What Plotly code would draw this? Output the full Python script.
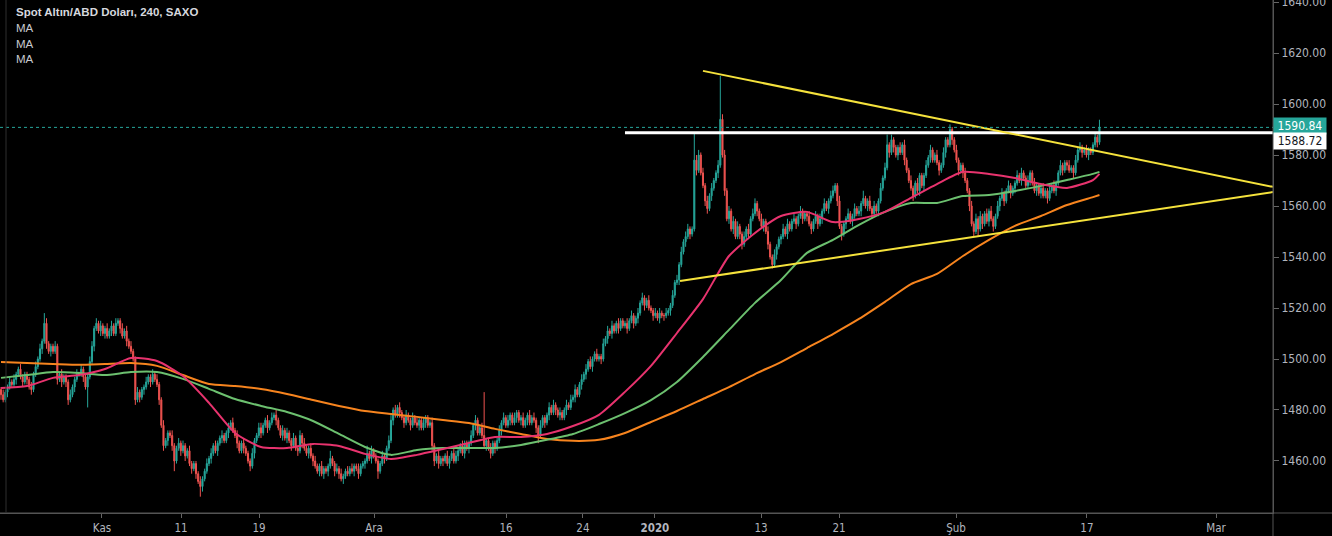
import plotly.graph_objects as go

# ---------------- data ----------------
first_open = 1488.0
# 4h closes, one row per trading day (6 bars)
closes = [
    1486, 1484, 1487, 1489, 1491, 1490,
    1492, 1494, 1496, 1493, 1491, 1494,
    1492, 1489, 1488, 1494, 1497, 1500,
    1504, 1507, 1514, 1506, 1503, 1505,
    1503, 1505, 1492, 1494, 1491, 1493,
    1491, 1484, 1486, 1489, 1492, 1494,
    1494, 1496, 1493, 1489, 1493, 1499,
    1505, 1512, 1514, 1511, 1513, 1510,
    1512, 1509, 1511, 1513, 1510, 1514,
    1515, 1512, 1509, 1511, 1507, 1505,
    1503, 1500, 1484, 1487, 1485, 1488,
    1489, 1491, 1493, 1491, 1494, 1492,
    1490, 1484, 1474, 1466, 1468, 1471,
    1470, 1466, 1460, 1465, 1467, 1464,
    1466, 1462, 1464, 1459, 1457, 1459,
    1455, 1452, 1450, 1453, 1456, 1459,
    1461, 1463, 1466, 1464, 1467, 1469,
    1470, 1468, 1471, 1473, 1475, 1472,
    1470, 1467, 1464, 1467, 1465, 1463,
    1460, 1458, 1463, 1468, 1470, 1473,
    1471, 1474, 1476, 1473, 1475, 1477,
    1478, 1476, 1473, 1470, 1472, 1469,
    1471, 1468, 1466, 1469, 1465, 1464,
    1470, 1467, 1465, 1463, 1465, 1462,
    1460, 1458, 1456, 1458, 1455, 1457,
    1456, 1458, 1461, 1459, 1456, 1457,
    1455, 1453, 1454, 1456, 1455, 1457,
    1456, 1458, 1457, 1455, 1458, 1459,
    1460, 1463, 1461, 1464, 1462, 1460,
    1456, 1459, 1462, 1461, 1465, 1468,
    1476, 1480, 1478, 1481, 1479, 1477,
    1475, 1478, 1476, 1474, 1477, 1475,
    1474, 1476, 1473, 1475, 1477, 1474,
    1475, 1466, 1460, 1462, 1459, 1461,
    1460, 1462, 1459, 1461, 1463, 1460,
    1462, 1464, 1466, 1463, 1467, 1465,
    1467, 1470, 1474, 1476, 1471, 1473,
    1470, 1466, 1468, 1465, 1463, 1467,
    1465, 1468, 1472, 1475, 1477, 1474,
    1476, 1478, 1475, 1477, 1479, 1476,
    1477, 1474, 1476, 1478, 1475, 1477,
    1476, 1473, 1470, 1474, 1477, 1475,
    1478, 1481, 1479, 1482, 1480, 1478,
    1479, 1477, 1480, 1482, 1481, 1484,
    1485, 1488, 1486, 1490, 1492, 1494,
    1496, 1499, 1497, 1500, 1502, 1500,
    1501, 1500, 1506, 1508, 1511, 1510,
    1513, 1511, 1514, 1512, 1515, 1513,
    1514, 1512, 1515, 1517, 1514, 1516,
    1518, 1522, 1524, 1521, 1523, 1520,
    1519, 1517, 1518, 1516, 1518, 1517,
    1517, 1518, 1519, 1521, 1525, 1530,
    1531, 1537, 1542, 1546, 1548, 1551,
    1549, 1551, 1578, 1574, 1580, 1573,
    1568, 1562, 1559, 1564, 1567, 1570,
    1573, 1576, 1594, 1580, 1566, 1555,
    1558, 1551, 1554, 1548, 1552, 1549,
    1545, 1548, 1551, 1549, 1555, 1557,
    1561, 1558, 1555, 1552, 1554, 1550,
    1545, 1540, 1537, 1541, 1544, 1547,
    1548, 1551, 1549, 1553, 1551, 1554,
    1555, 1553, 1556, 1558, 1555, 1557,
    1556, 1553, 1551, 1554, 1556, 1553,
    1555, 1558, 1561, 1559, 1562, 1564,
    1566, 1568, 1562, 1552, 1549, 1553,
    1555, 1557, 1554, 1556, 1559, 1557,
    1558, 1561, 1563, 1560, 1562, 1559,
    1557, 1560, 1558, 1562, 1567, 1571,
    1575, 1584, 1581, 1586, 1583, 1580,
    1583, 1581, 1584, 1578, 1574, 1570,
    1567, 1564, 1569, 1566, 1572, 1568,
    1572, 1576, 1579, 1582, 1578, 1580,
    1577, 1574, 1576, 1581, 1586, 1584,
    1590, 1586, 1582, 1578, 1574, 1576,
    1573, 1570, 1566, 1560, 1553, 1550,
    1555, 1551, 1556, 1553, 1557, 1554,
    1558, 1555, 1552, 1556, 1560, 1563,
    1565, 1562, 1566, 1568, 1565, 1567,
    1569, 1572, 1570, 1573, 1571, 1568,
    1570, 1573, 1569, 1566, 1568, 1565,
    1567, 1564, 1566, 1563, 1566, 1568,
    1566, 1569, 1573, 1576, 1574, 1577,
    1576, 1574, 1575, 1573, 1578, 1582,
    1583, 1581, 1582, 1580, 1582, 1581,
    1584, 1587, 1585, 1590.84,
]
# upper wick length above the candle body
wick_hi = [
    1, 2, 1, 1, 2, 1,  2, 1, 1, 2, 1, 1,  1, 1, 2, 1, 2, 1,  2, 1, 4, 2, 1, 1,
    1, 2, 1, 1, 2, 1,  1, 1, 2, 1, 1, 2,  1, 2, 1, 1, 1, 2,  2, 1, 2, 1, 2, 1,
    1, 2, 1, 2, 1, 2,  1, 1, 2, 1, 2, 1,  2, 1, 1, 2, 1, 1,  1, 2, 1, 1, 2, 1,
    2, 1, 1, 2, 1, 1,  1, 2, 1, 1, 2, 1,  2, 1, 1, 2, 1, 1,  1, 1, 2, 1, 1, 2,
    1, 2, 1, 2, 1, 1,  2, 1, 1, 2, 1, 2,  1, 2, 1, 1, 2, 1,  1, 1, 2, 1, 1, 2,
    2, 1, 1, 2, 1, 2,  1, 2, 1, 1, 2, 1,  2, 1, 1, 2, 1, 1,  2, 1, 2, 1, 1, 2,
    1, 2, 1, 1, 2, 1,  1, 1, 3, 1, 1, 2,  1, 2, 1, 1, 2, 1,  2, 1, 1, 2, 1, 1,
    1, 3, 1, 2, 1, 1,  1, 1, 2, 1, 1, 2,  2, 1, 2, 1, 2, 1,  1, 2, 1, 1, 2, 1,
    2, 1, 1, 2, 1, 1,  1, 2, 1, 1, 2, 1,  1, 1, 2, 1, 1, 2,  2, 1, 1, 2, 1, 1,
    1, 2, 1, 2, 1, 1,  2, 17, 1, 1, 2, 1, 1, 1, 2, 1, 2, 1,  2, 1, 1, 2, 1, 1,
    1, 2, 1, 1, 2, 1,  2, 1, 1, 2, 1, 1,  1, 2, 1, 2, 1, 1,  2, 1, 1, 2, 1, 2,
    1, 2, 1, 1, 2, 1,  2, 1, 2, 1, 1, 2,  1, 1, 2, 1, 2, 1,  2, 1, 1, 2, 1, 1,
    1, 2, 1, 2, 1, 1,  2, 1, 2, 1, 1, 2,  1, 1, 2, 1, 2, 1,  1, 2, 1, 1, 2, 1,
    2, 1, 2, 1, 2, 2,  1, 1, 11, 2, 2, 1, 2, 1, 2, 1, 2, 1,  1, 2, 17, 2, 2, 1,
    2, 1, 2, 1, 2, 1,  1, 2, 1, 2, 1, 2,  2, 1, 1, 2, 1, 1,  2, 1, 1, 2, 1, 1,
    1, 2, 1, 2, 1, 1,  2, 1, 1, 2, 1, 1,  1, 2, 1, 1, 2, 1,  2, 1, 2, 1, 1, 2,
    2, 1, 1, 2, 1, 1,  1, 2, 1, 1, 2, 1,  2, 1, 3, 1, 1, 2,  1, 2, 1, 1, 2, 1,
    2, 4, 1, 2, 1, 1,  1, 2, 1, 2, 1, 1,  2, 1, 1, 2, 1, 1,  1, 2, 1, 2, 1, 1,
    2, 1, 1, 2, 1, 1,  2, 1, 1, 2, 1, 1,  1, 2, 1, 1, 2, 1,  2, 1, 2, 1, 1, 2,
    1, 2, 1, 1, 2, 1,  2, 1, 1, 2, 1, 1,  1, 2, 1, 2, 1, 1,  2, 1, 1, 2, 1, 1,
    1, 2, 1, 1, 2, 1,  2, 1, 1, 2, 1, 1,  1, 2, 1, 1, 2, 1,  2, 1, 1, 2, 1, 1,
    1, 2, 1, 3,
]
# lower wick length below the candle body
wick_lo = [
    2, 1, 1, 2, 1, 1,  1, 2, 1, 1, 2, 1,  2, 1, 2, 1, 1, 1,  1, 2, 1, 2, 1, 2,
    1, 1, 2, 1, 2, 1,  2, 2, 1, 1, 2, 1,  1, 1, 2, 1, 8, 1,  1, 2, 1, 1, 2, 1,
    2, 1, 1, 2, 1, 1,  1, 2, 1, 1, 2, 1,  1, 1, 2, 1, 2, 1,  2, 1, 1, 2, 1, 1,
    1, 2, 1, 2, 1, 2,  1, 2, 4, 1, 1, 2,  1, 2, 1, 1, 2, 1,  2, 1, 4, 2, 1, 1,
    1, 2, 1, 1, 2, 1,  2, 1, 1, 2, 1, 1,  1, 2, 1, 1, 2, 1,  1, 2, 1, 2, 1, 1,
    2, 1, 1, 2, 1, 1,  1, 2, 1, 1, 2, 1,  2, 1, 2, 1, 1, 2,  1, 2, 1, 1, 2, 1,
    2, 1, 1, 2, 1, 2,  1, 2, 1, 1, 2, 1,  2, 1, 2, 1, 1, 1,  1, 2, 1, 2, 1, 1,
    2, 1, 1, 2, 1, 1,  3, 1, 1, 2, 1, 1,  1, 2, 1, 1, 2, 1,  2, 1, 1, 2, 1, 1,
    1, 2, 1, 1, 2, 1,  1, 2, 2, 1, 2, 1,  2, 1, 1, 2, 1, 1,  1, 2, 1, 1, 2, 1,
    2, 1, 1, 2, 1, 1,  1, 1, 2, 1, 2, 1,  2, 1, 1, 2, 1, 1,  1, 2, 1, 1, 2, 1,
    2, 1, 1, 2, 1, 1,  1, 2, 3, 1, 1, 2,  1, 2, 1, 1, 2, 1,  2, 1, 1, 2, 1, 1,
    1, 2, 1, 1, 2, 1,  2, 1, 1, 2, 1, 1,  1, 2, 1, 1, 2, 1,  2, 1, 1, 2, 1, 1,
    1, 2, 1, 1, 2, 1,  2, 1, 1, 2, 1, 1,  1, 2, 1, 1, 2, 1,  2, 1, 1, 2, 1, 1,
    1, 2, 1, 1, 2, 1,  2, 1, 1, 2, 1, 1,  1, 2, 2, 1, 2, 1,  1, 2, 1, 1, 2, 1,
    2, 1, 2, 1, 1, 2,  2, 1, 1, 2, 1, 1,  1, 2, 1, 1, 2, 1,  2, 1, 1.5, 1, 2, 1,
    2, 1, 1, 2, 1, 1,  1, 2, 1, 1, 2, 1,  2, 1, 2, 1, 1, 2,  1, 2, 1, 1, 2, 1,
    1, 1, 2, 1, 2.5, 1, 2, 1, 1, 2, 1, 1, 1, 2, 1, 1, 2, 1,  2, 1, 1, 2, 1, 1,
    1, 1, 2, 1, 2, 1,  2, 1, 1, 2, 1, 1,  1, 2, 1, 1, 2, 1,  2, 1, 1, 2, 1, 1,
    1, 2, 1, 1, 2, 1,  1, 2, 1, 1, 2, 1,  2, 1, 1, 2, 1, 2,  1, 3, 1, 2, 1, 1,
    2, 1, 2, 1, 1, 2,  1, 2, 1, 1, 2, 1,  2, 1, 1, 2, 1, 1,  1, 2, 1, 1, 2, 1,
    2, 1, 1, 2, 1, 1,  1, 2, 1, 1, 2, 1,  2, 1, 1, 2, 1, 1,  1, 2, 1, 1, 2, 1,
    1, 1, 2, 1,
]

# moving averages, read every 12 bars
ma_bars = [0, 12, 24, 36, 48, 60, 72, 84, 96, 108, 120, 132, 144, 156, 168, 180,
           192, 204, 216, 228, 240, 252, 264, 276, 288, 300, 312, 324, 336, 348,
           360, 372, 384, 396, 408, 420, 432, 444, 456, 468, 480, 492, 504, 507]
ma_fast = [1488.6, 1489.4, 1492.6, 1493.7, 1496.1, 1500.4, 1499.2, 1493.3, 1482.8, 1471.0,
           1465.5, 1465.1, 1466.7, 1465.9, 1462.8, 1460.8, 1462.4, 1464.7, 1467.1, 1469.4,
           1469.4, 1470.6, 1473.7, 1478.1, 1487.1, 1497.3, 1510.2, 1523.5, 1540.4, 1549.4,
           1556.1, 1557.7, 1553.7, 1554.9, 1557.7, 1563.2, 1568.6, 1573.4, 1572.6, 1571.0,
           1568.6, 1567.1, 1570.2, 1572.6]
ma_mid = [1492.6, 1493.7, 1494.9, 1494.5, 1493.7, 1494.9, 1494.9, 1492.2, 1488.3, 1484.3,
          1481.6, 1479.2, 1475.7, 1470.6, 1465.5, 1462.4, 1464.3, 1465.1, 1465.1, 1465.1,
          1466.3, 1468.3, 1470.6, 1474.5, 1478.8, 1483.9, 1491.0, 1500.8, 1511.4, 1522.0,
          1531.0, 1541.6, 1546.7, 1552.6, 1557.7, 1561.2, 1561.2, 1563.9, 1564.3, 1565.9,
          1567.9, 1570.2, 1572.6, 1573.4]
ma_slow = [1498.8, 1498.4, 1498.05, 1497.7, 1498.05, 1498.4, 1497.3, 1493.7, 1490.2, 1489.4,
           1488.25, 1486.3, 1483.9, 1481.6, 1479.6, 1478.45, 1477.3, 1476.1, 1474.9, 1472.6,
           1470.6, 1468.65, 1467.9, 1468.3, 1471.0, 1475.3, 1479.6, 1484.3, 1489.0, 1494.1,
           1498.8, 1504.3, 1509.8, 1515.7, 1522.4, 1529.4, 1533.35, 1540.4, 1546.7, 1552.2,
           1556.1, 1560.4, 1563.5, 1564.3]

# drawings (bar index, price)
upper_trend_x = [324.0, 587.1]
upper_trend_y = [1613.0, 1567.5]
lower_trend_x = [313.4, 587.1]
lower_trend_y = [1530.6, 1565.5]
resistance_x = [288.0, 587.1]
resistance_price = 1588.72
last_price = 1590.84

x_tick_pos = [46.6, 83.1, 119.1, 172.2, 233.1, 268.6, 301.8, 350.8, 386.8, 440.8, 501.2, 560.8]
x_tick_text = ["Kas", "11", "19", "Ara", "16", "24", "<b>2020</b>", "13", "21", "Şub", "17", "Mar"]
y_tick_vals = [1460, 1480, 1500, 1520, 1540, 1560, 1580, 1600, 1620, 1640]

# ---------------- build ----------------
n = len(closes)
bars = list(range(n))
opens = [first_open] + closes[:-1]
highs = [max(o, c) + w for o, c, w in zip(opens, closes, wick_hi)]
lows = [min(o, c) - w for o, c, w in zip(opens, closes, wick_lo)]

UP = "#26a69a"
DOWN = "#ef5350"
AXIS_FONT = "Liberation Sans Narrow, Arial Narrow, DejaVu Sans Condensed, Liberation Sans, sans-serif"

fig = go.Figure()
fig.add_trace(go.Candlestick(
    x=bars, open=opens, high=highs, low=lows, close=closes,
    increasing=dict(line=dict(color=UP, width=1), fillcolor=UP),
    decreasing=dict(line=dict(color=DOWN, width=1), fillcolor=DOWN),
    whiskerwidth=0, hoverinfo="skip", showlegend=False,
))
for vals, col in [(ma_slow, "#f7841e"), (ma_mid, "#6cc06f"), (ma_fast, "#e8336e")]:
    fig.add_trace(go.Scatter(x=ma_bars, y=vals, mode="lines",
                             line=dict(color=col, width=2, shape="spline", smoothing=0.6),
                             hoverinfo="skip", showlegend=False))

fig.add_trace(go.Scatter(x=resistance_x, y=[resistance_price] * 2, mode="lines",
                         line=dict(color="#ffffff", width=3), hoverinfo="skip", showlegend=False))
for xs, ys in [(upper_trend_x, upper_trend_y), (lower_trend_x, lower_trend_y)]:
    fig.add_trace(go.Scatter(x=xs, y=ys, mode="lines", line=dict(color="#f5e23c", width=2),
                             hoverinfo="skip", showlegend=False))

shapes = [
    dict(type="line", xref="paper", yref="y", x0=0, x1=1, y0=last_price, y1=last_price,
         line=dict(color=UP, width=1, dash="dot")),
    dict(type="line", xref="paper", yref="paper", x0=0, x1=1332 / 1273, y0=0, y1=0,
         line=dict(color="#555555", width=1)),
    dict(type="line", xref="paper", yref="paper", x0=1, x1=1, y0=-23 / 513, y1=1,
         line=dict(color="#555555", width=1)),
    dict(type="line", xref="paper", yref="paper", x0=6 / 1273, x1=6 / 1273, y0=0, y1=1,
         line=dict(color="#2e2e2e", width=1)),
]

annotations = [
    dict(xref="paper", yref="paper", x=14 / 1273, y=1 - 12 / 513, xanchor="left", yanchor="middle",
         text="<b>Spot Altın/ABD Doları, 240, SAXO</b>", showarrow=False,
         font=dict(family="Liberation Sans, Arial, sans-serif", size=11.5, color="#d6d8de")),
]
for i, yy in enumerate([28, 44, 59]):
    annotations.append(dict(xref="paper", yref="paper", x=14 / 1273, y=1 - yy / 513,
                            xanchor="left", yanchor="middle", text="MA", showarrow=False,
                            font=dict(family="Liberation Sans, Arial, sans-serif", size=11.5,
                                      color="#c8cad0")))
annotations.append(dict(xref="paper", yref="y", x=1, y=last_price, xanchor="left", yanchor="middle",
                        yshift=1, text="%.2f" % last_price, showarrow=False, bgcolor=UP,
                        width=50, height=14, borderpad=1,
                        font=dict(family=AXIS_FONT, size=12, color="#ffffff")))
annotations.append(dict(xref="paper", yref="y", x=1, y=resistance_price, xanchor="left",
                        yanchor="middle", yshift=-8, text="%.2f" % resistance_price,
                        showarrow=False, bgcolor="#ffffff", width=50, height=14, borderpad=1,
                        font=dict(family=AXIS_FONT, size=12, color="#131722")))

fig.update_layout(
    width=1332, height=536,
    margin=dict(l=0, r=59, t=0, b=23, autoexpand=False),
    paper_bgcolor="#000000", plot_bgcolor="#000000",
    showlegend=False, shapes=shapes, annotations=annotations,
    xaxis=dict(range=[-0.46, 587.1], tickvals=x_tick_pos, ticktext=x_tick_text,
               showgrid=False, zeroline=False, showline=True, linecolor="#555555",
               ticks="outside", ticklen=4, tickcolor="#666666", automargin=False,
               tickfont=dict(family=AXIS_FONT, size=11.5, color="#b2b5be"),
               rangeslider=dict(visible=False), fixedrange=True),
    yaxis=dict(side="right", range=[1439.6, 1640.8], tickvals=y_tick_vals, tickformat=".2f",
               showgrid=False, zeroline=False, showline=True, linecolor="#555555",
               ticks="outside", ticklen=5, tickcolor="#666666", ticklabeloverflow="allow",
               automargin=False,
               tickfont=dict(family=AXIS_FONT, size=12, color="#b2b5be"), fixedrange=True),
)

fig.write_html("out.html")
